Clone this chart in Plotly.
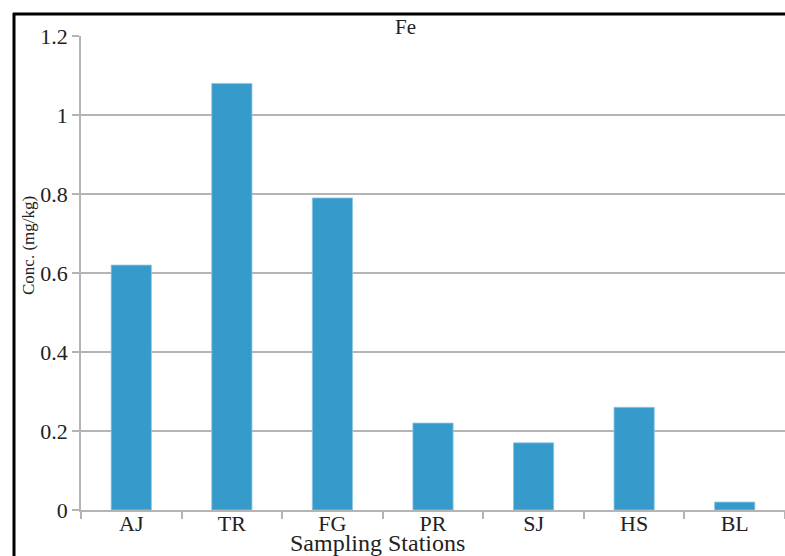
import plotly.graph_objects as go

# Fe concentration per sampling station
stations = ["AJ", "TR", "FG", "PR", "SJ", "HS", "BL"]
fe_conc = [0.62, 1.08, 0.79, 0.22, 0.17, 0.26, 0.02]
y_ticks = [0, 0.2, 0.4, 0.6, 0.8, 1, 1.2]
y_tick_text = ["0", "0.2", "0.4", "0.6", "0.8", "1", "1.2"]

W, H = 785, 556
L, T, B, R = 81, 36, 46, 0
plot_w = W - L - R
plot_h = H - T - B


def px_x(x):
    return (x - L) / plot_w


def px_y(y):
    return (H - B - y) / plot_h


FONT = "Liberation Serif, Times New Roman, serif"
GRID = "#b4b4b4"
TEXT = "#222222"

fig = go.Figure(
    go.Bar(
        x=stations,
        y=fe_conc,
        width=0.4,
        marker=dict(color="#369bcb", line=dict(color="#8ec6e4", width=0.8)),
    )
)

fig.update_layout(
    width=W,
    height=H,
    margin=dict(l=L, r=R, t=T, b=B),
    paper_bgcolor="white",
    plot_bgcolor="white",
    showlegend=False,
    font=dict(family=FONT, color=TEXT),
)

fig.update_xaxes(
    type="category",
    range=[-0.5, 6.5],
    showline=True,
    linecolor=GRID,
    linewidth=1.5,
    ticks="outside",
    tickson="boundaries",
    ticklen=7,
    tickcolor=GRID,
    tickwidth=1.5,
    ticklabelstandoff=-7,
    tickfont=dict(size=22, family=FONT, color=TEXT),
    showgrid=False,
)

fig.update_yaxes(
    range=[0, 1.2],
    tickvals=y_ticks,
    ticktext=y_tick_text,
    showline=True,
    linecolor=GRID,
    linewidth=1.5,
    ticks="outside",
    ticklen=7,
    tickcolor=GRID,
    tickwidth=1.5,
    tickfont=dict(size=22, family=FONT, color=TEXT),
    showgrid=True,
    gridcolor=GRID,
    gridwidth=1.5,
    zeroline=False,
)

# titles
fig.add_annotation(
    text="Fe", xref="paper", yref="paper", x=px_x(405), y=px_y(27),
    xanchor="center", yanchor="middle",
    showarrow=False, font=dict(size=21, family=FONT, color=TEXT),
)
fig.add_annotation(
    text="Sampling Stations", xref="paper", yref="paper", x=px_x(377), y=px_y(543),
    xanchor="center", yanchor="middle",
    showarrow=False, font=dict(size=24, family=FONT, color=TEXT),
)
fig.add_annotation(
    text="Conc. (mg/kg)", xref="paper", yref="paper", x=px_x(28), y=px_y(246),
    xanchor="center", yanchor="middle",
    textangle=-90, showarrow=False, font=dict(size=17, family=FONT, color=TEXT),
)

# frame on the left and top
fig.add_shape(type="line", xref="paper", yref="paper",
              x0=px_x(14), x1=px_x(14), y0=px_y(13), y1=px_y(560),
              line=dict(color="black", width=3))
fig.add_shape(type="line", xref="paper", yref="paper",
              x0=px_x(13), x1=px_x(785), y0=px_y(14), y1=px_y(14),
              line=dict(color="black", width=3))

fig.write_html("out.html")
